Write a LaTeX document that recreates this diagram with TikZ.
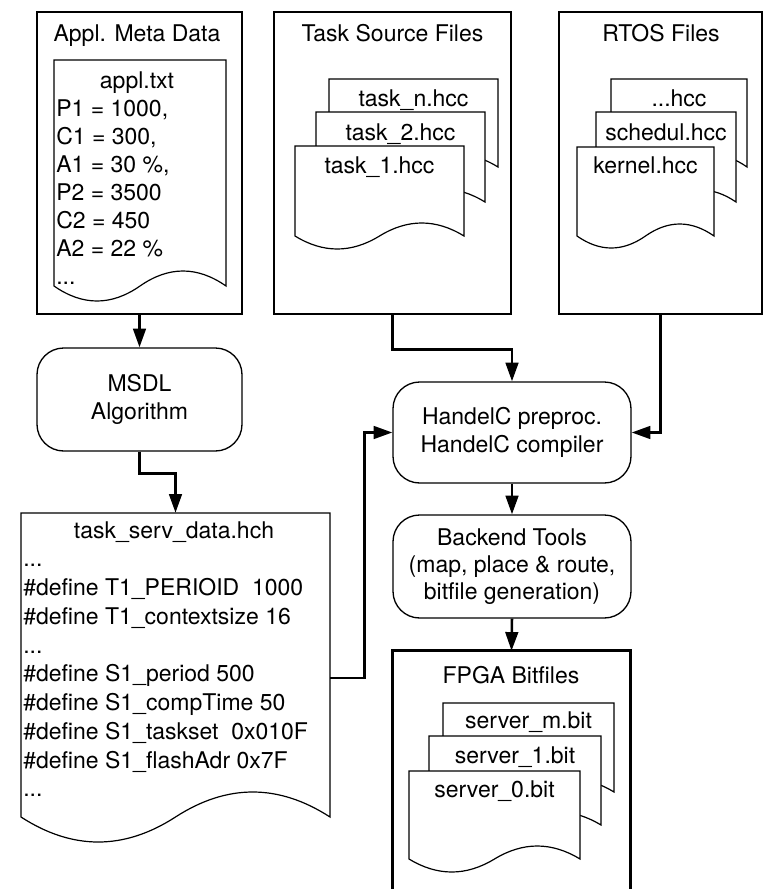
\documentclass[tikz,border=0pt]{standalone}
\usepackage{fontspec}
\setmainfont{TeX Gyre Heros}
\usetikzlibrary{arrows.meta}
\newcommand{\docshape}[5]{%
  \path[docln] (#1,#2) -- (#3,#2) -- (#3,#4)
    .. controls ({#3-(#3-#1)/6},{#4-4*#5/3}) and ({#3-(#3-#1)/3},{#4-4*#5/3}) .. ({(#1+#3)/2},#4)
    .. controls ({#1+(#3-#1)/3},{#4+4*#5/3}) and ({#1+(#3-#1)/6},{#4+4*#5/3}) .. (#1,#4) -- cycle;}
\begin{document}
\begin{tikzpicture}[x=0.75pt,y=-0.75pt,
  every node/.style={font=\fontsize{17.25pt}{20.5pt}\selectfont},
  obox/.style={draw, line width=1.9pt, inner sep=0pt},
  pbox/.style={draw, line width=1pt, rounded corners=20pt, inner sep=0pt, align=center},
  docln/.style={draw, fill=white, line width=0.9pt},
  arr/.style={line width=1.9pt, -{Triangle[length=14pt,width=9.5pt]}},
  tl/.style={anchor=base west, inner sep=0pt},
  tc/.style={anchor=base, inner sep=0pt},
]
\useasboundingbox (0,0) rectangle (769,889);

% outer boxes
\node[obox, minimum width=153.75pt, minimum height=226.5pt] (appl) at (139.5,163) {};
\node[obox, minimum width=177.75pt, minimum height=226.5pt] (task) at (392.5,163) {};
\node[obox, minimum width=152.25pt, minimum height=226.5pt] (rtos) at (660.5,163) {};
\node[inner sep=0pt, minimum width=177.75pt, minimum height=183pt] (fpga) at (511.5,773) {};
\draw[line width=1.9pt] (fpga.south west) -- (fpga.north west) -- (fpga.north east) -- (fpga.south east);

\node[tc] at (137,41) {Appl. Meta Data};
\node[tc] at (392.5,41) {Task Source Files};
\node[tc] at (661,41) {RTOS Files};
\node[tc] at (511,683) {FPGA Bitfiles};

% appl.txt
\docshape{54}{60}{226}{286}{15}
\node[tc] at (137,88) {appl.txt};
\node[tl] at (56,116) {P1 = 1000,};
\node[tl] at (56,144) {C1 = 300,};
\node[tl] at (56,172) {A1 = 30 \%,};
\node[tl] at (56,200) {P2 = 3500};
\node[tl] at (56,228) {C2 = 450};
\node[tl] at (56,256) {A2 = 22 \%};
\node[tl] at (56,284) {...};

% task files
\docshape{329}{79}{498}{167}{13}
\node[tc] at (413.5,106) {task\_n.hcc};
\docshape{316}{112}{485}{202}{13}
\node[tc] at (400.5,140) {task\_2.hcc};
\docshape{295}{146}{464}{236}{13}
\node[tc] at (379.5,173) {task\_1.hcc};

% rtos files
\docshape{611}{79}{747}{167}{12}
\node[tc] at (679,106) {...hcc};
\docshape{596}{112}{736}{202}{12}
\node[tc] at (666,140) {schedul.hcc};
\docshape{577}{147}{714}{236}{12}
\node[tc] at (645.5,173) {kernel.hcc};

% fpga bitfiles
\docshape{443}{703}{614}{792}{13}
\node[tc] at (528.5,728) {server\_m.bit};
\docshape{429}{736}{601}{825}{13}
\node[tc] at (515,763) {server\_1.bit};
\docshape{409}{771}{580}{859}{13}
\node[tc] at (494.5,797) {server\_0.bit};

% task_serv_data.hch
\node[inner sep=0pt, minimum width=231.75pt, minimum height=228pt] (tsd) at (175.5,665) {};
\docshape{21}{513}{330}{817}{25}
\node[tc] at (174,538) {task\_serv\_data.hch};
\node[tl] at (23,566.75) {...};
\node[tl] at (23,595.5) {\#define T1\_PERIOID\ \ 1000};
\node[tl] at (23,624.25) {\#define T1\_contextsize 16};
\node[tl] at (23,653) {...};
\node[tl] at (23,681.75) {\#define S1\_period 500};
\node[tl] at (23,710.5) {\#define S1\_compTime 50};
\node[tl] at (23,739.25) {\#define S1\_taskset\ \ 0x010F};
\node[tl] at (23,768) {\#define S1\_flashAdr 0x7F};
\node[tl] at (23,796.75) {...};

% process boxes
\node[pbox, minimum width=153.75pt, minimum height=77.25pt] (msdl) at (139.5,399.5) {MSDL\\Algorithm};
\node[pbox, minimum width=178.5pt, minimum height=75.75pt] (handel) at (512,432.5) {HandelC preproc.\\HandelC compiler};
\node[pbox, minimum width=178.5pt, minimum height=77.25pt] (backend) at (512,566.5) {Backend Tools\\(map, place \& route,\\bitfile generation)};

% connectors
\draw[arr] (appl.south) -- (msdl.north);
\draw[arr] (msdl.south) -- ++(0,22) -| (tsd.north);
\draw[arr] (task.south) -- ++(0,34) -| (handel.north);
\draw[arr] (rtos.south) |- (handel.east);
\draw[arr] ([yshift=-9.75pt]tsd.east) -- ++(34,0) |- (handel.west);
\draw[arr] (handel.south) -- (backend.north);
\draw[arr] (backend.south) -- (fpga.north);
\end{tikzpicture}
\end{document}
